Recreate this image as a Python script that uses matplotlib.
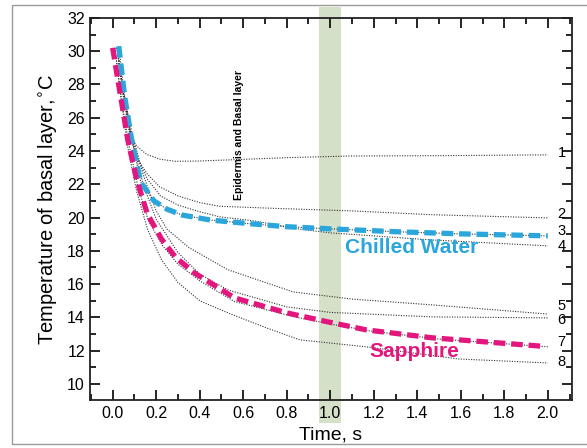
import numpy as np
import matplotlib.pyplot as plt
import matplotlib
from matplotlib.patches import Rectangle
from matplotlib.transforms import blended_transform_factory
from matplotlib.ticker import MultipleLocator

matplotlib.rcParams.update({'font.family': 'Liberation Sans'})

# Chilled water (blue) and sapphire (magenta) curves
t_water = [0.028, 0.055, 0.087, 0.13, 0.19, 0.25, 0.32, 0.45, 0.64, 0.8, 1.0, 1.3, 1.6, 2.0]
T_water = [30.3, 27.3, 24.7, 22.1, 21.0, 20.5, 20.15, 19.85, 19.62, 19.45, 19.32, 19.15, 19.02, 18.9]
t_sapph = [0.0, 0.037, 0.069, 0.11, 0.16, 0.225, 0.29, 0.376, 0.56, 0.8, 1.0, 1.165, 1.47, 1.99]
T_sapph = [30.2, 27.25, 24.7, 22.3, 20.2, 18.7, 17.6, 16.67, 15.17, 14.27, 13.7, 13.25, 12.77, 12.25]

# dotted reference curves 1..8
t1 = [0.02, 0.05, 0.078, 0.11, 0.156, 0.22, 0.29, 0.4, 0.6, 0.8, 1.09, 1.5, 2.0]
T1 = [30.2, 27.2, 25.0, 24.3, 23.8, 23.5, 23.38, 23.4, 23.5, 23.6, 23.7, 23.72, 23.77]
t2 = [0.02, 0.05, 0.08, 0.11, 0.16, 0.216, 0.3, 0.4, 0.49, 0.75, 1.1, 1.47, 2.0]
T2 = [30.2, 27.4, 25.2, 23.6, 22.6, 21.85, 21.3, 20.9, 20.68, 20.55, 20.4, 20.17, 19.98]
t3 = t_water
T3 = T_water
t4 = [0.02, 0.05, 0.08, 0.12, 0.16, 0.22, 0.3, 0.4, 0.49, 0.65, 0.86, 1.0, 1.47, 2.0]
T4 = [30.2, 27.3, 25.1, 23.4, 22.3, 21.3, 20.75, 20.35, 20.05, 19.8, 19.3, 19.08, 18.65, 18.3]
t5 = [0.02, 0.05, 0.09, 0.14, 0.2, 0.25, 0.35, 0.53, 0.83, 1.1, 1.47, 2.0]
T5 = [30.2, 27.5, 25.0, 22.6, 20.4, 19.3, 18.2, 16.86, 15.53, 15.1, 14.75, 14.2]
t6 = [0.02, 0.05, 0.09, 0.14, 0.2, 0.3, 0.4, 0.53, 0.8, 1.0, 1.47, 2.0]
T6 = [30.2, 27.3, 24.6, 22.0, 19.9, 17.9, 16.6, 15.65, 14.63, 14.3, 14.03, 13.97]
t7 = [0.01, 0.04, 0.075, 0.115, 0.165, 0.23, 0.3, 0.4, 0.56, 0.83, 1.0, 1.2, 1.5, 2.0]
T7 = [30.2, 27.1, 24.4, 21.9, 19.8, 18.3, 17.2, 16.2, 14.95, 14.05, 13.6, 13.15, 12.7, 12.23]
t8 = [0.01, 0.04, 0.07, 0.11, 0.16, 0.225, 0.3, 0.4, 0.53, 0.7, 0.86, 1.165, 1.59, 2.0]
T8 = [30.2, 27.0, 24.2, 21.6, 19.3, 17.45, 16.1, 15.0, 14.27, 13.4, 12.65, 12.23, 11.5, 11.26]

curve_t = [t1, t2, t3, t4, t5, t6, t7, t8]
curve_T = [T1, T2, T3, T4, T5, T6, T7, T8]
curve_names = ['1', '2', '3', '4', '5', '6', '7', '8']
label_y = [23.89, 20.22, 19.2, 18.3, 14.7, 13.85, 12.53, 11.33]

blue, magenta, band = '#2aa6dd', '#e3167e', '#d4e0c8'

fig = plt.figure(figsize=(5.87, 4.48), dpi=100)
ax = fig.add_axes([0.153, 0.107, 0.821, 0.853])

# outer frame
fig.patches.append(Rectangle((0.02, 0.009), 1.0, 0.98, transform=fig.transFigure,
                             fill=False, ec='#9a9a9a', lw=1.0))

# green band at t ~ 1.0 s, running past the axes
tr = blended_transform_factory(ax.transData, fig.transFigure)
ax.add_patch(Rectangle((0.95, 0.056), 0.10, 0.928, transform=tr, fc=band,
                       ec='none', clip_on=False, zorder=0))

for tt, TT in zip(curve_t, curve_T):
    ax.plot(tt, TT, color='#333333', lw=0.8, ls=(0, (1, 1.3)), zorder=2)

ax.plot(t_water, T_water, color=blue, lw=3.8, ls=(0, (2.2, 1.1)), zorder=3)
ax.plot(t_sapph, T_sapph, color=magenta, lw=3.8, ls=(0, (2.2, 1.1)), zorder=3)

for name, yy in zip(curve_names, label_y):
    ax.text(2.064, yy, name, fontsize=10.5, ha='center', va='center')

ax.text(0.58, 24.97, 'Epidermis and Basal layer', rotation=90, fontsize=7.5,
        fontweight='bold', ha='center', va='center')
ax.text(1.07, 18.2, 'Chilled Water', color=blue, fontsize=15, fontweight='bold',
        ha='left', va='center')
ax.text(1.18, 11.93, 'Sapphire', color=magenta, fontsize=15, fontweight='bold',
        ha='left', va='center')

ax.set_xlim(-0.105, 2.11)
ax.set_ylim(9.03, 32)
ax.xaxis.set_major_locator(MultipleLocator(0.2))
ax.xaxis.set_minor_locator(MultipleLocator(0.1))
ax.yaxis.set_major_locator(MultipleLocator(2))
ax.yaxis.set_minor_locator(MultipleLocator(1))
ax.set_xticks(np.linspace(0, 2, 11))
ax.set_xticklabels([f"{v:.1f}" for v in np.linspace(0, 2, 11)])
ax.tick_params(which='both', direction='in', top=True, right=True, labelsize=11.5, width=1.2)
ax.tick_params(which='major', length=7)
ax.tick_params(which='minor', length=4)
ax.tick_params(axis='x', pad=4)
for sp in ax.spines.values():
    sp.set_linewidth(1.3)
    sp.set_color('#222222')

ax.set_xlabel('Time, s', fontsize=14, labelpad=4)
ax.set_ylabel('Temperature of basal layer,$^{\\circ}$C', fontsize=14.5, labelpad=6)

fig.savefig('out.png', dpi=100)
